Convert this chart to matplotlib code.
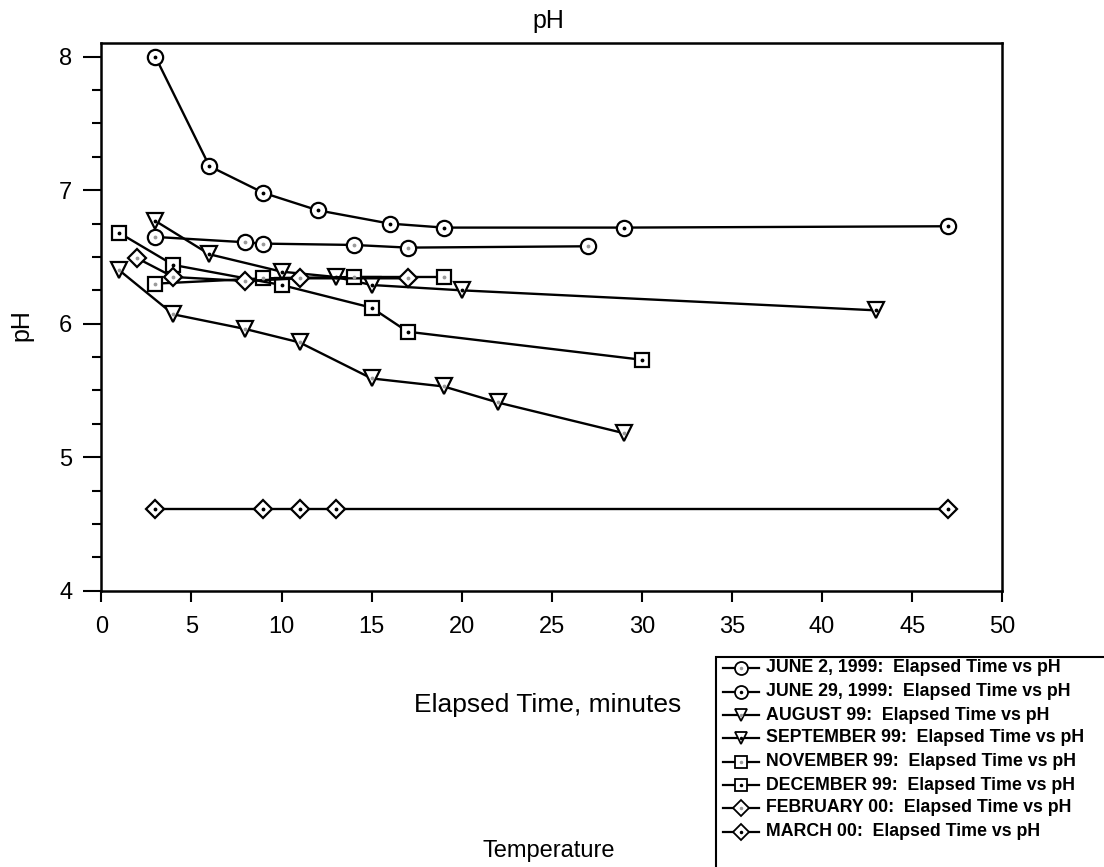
import matplotlib
matplotlib.use("Agg")
import matplotlib.pyplot as plt
from matplotlib.lines import Line2D
from matplotlib.patches import Rectangle
from matplotlib.ticker import MultipleLocator

plt.rcParams['font.family'] = ['Liberation Sans', 'DejaVu Sans']

# Elapsed time (minutes) and pH readings for each sampling date
june2_t = [3, 8, 9, 14, 17, 27]
june2_ph = [6.65, 6.61, 6.60, 6.59, 6.57, 6.58]
june29_t = [3, 6, 9, 12, 16, 19, 29, 47]
june29_ph = [8.00, 7.18, 6.98, 6.85, 6.75, 6.72, 6.72, 6.73]
aug_t = [1, 4, 8, 11, 15, 19, 22, 29]
aug_ph = [6.40, 6.07, 5.96, 5.86, 5.59, 5.53, 5.41, 5.18]
sep_t = [3, 6, 10, 13, 15, 20, 43]
sep_ph = [6.77, 6.52, 6.39, 6.35, 6.29, 6.25, 6.10]
nov_t = [3, 9, 14, 19]
nov_ph = [6.30, 6.34, 6.35, 6.35]
dec_t = [1, 4, 10, 15, 17, 30]
dec_ph = [6.68, 6.44, 6.29, 6.12, 5.94, 5.73]
feb_t = [2, 4, 8, 11, 17]
feb_ph = [6.49, 6.35, 6.32, 6.34, 6.34]
mar_t = [3, 9, 11, 13, 47]
mar_ph = [4.61, 4.61, 4.61, 4.61, 4.61]

labels = [
    "JUNE 2, 1999:  Elapsed Time vs pH",
    "JUNE 29, 1999:  Elapsed Time vs pH",
    "AUGUST 99:  Elapsed Time vs pH",
    "SEPTEMBER 99:  Elapsed Time vs pH",
    "NOVEMBER 99:  Elapsed Time vs pH",
    "DECEMBER 99:  Elapsed Time vs pH",
    "FEBRUARY 00:  Elapsed Time vs pH",
    "MARCH 00:  Elapsed Time vs pH",
]

# marker shape, marker size, centre mark colour
styles = [
    ("o", 11, "#9a9a9a"),
    ("o", 11, "black"),
    ("v", 11, "#9a9a9a"),
    ("v", 11, "black"),
    ("s", 10, "#9a9a9a"),
    ("s", 10, "black"),
    ("D", 9, "#9a9a9a"),
    ("D", 9, "black"),
]

series = [
    (june2_t, june2_ph), (june29_t, june29_ph),
    (aug_t, aug_ph), (sep_t, sep_ph),
    (nov_t, nov_ph), (dec_t, dec_ph),
    (feb_t, feb_ph), (mar_t, mar_ph),
]

W, H = 1104, 867
fig = plt.figure(figsize=(W / 100, H / 100), dpi=100)


def fx(px):
    return px / W


def fy(py):
    return 1 - py / H


ax = fig.add_axes([fx(101.3), fy(590.7), fx(1002.3) - fx(101.3), fy(42.7) - fy(590.7)])

for (t, ph), (m, ms, dot) in zip(series, styles):
    ax.plot(t, ph, color="black", lw=1.7, marker=m, markersize=ms,
            markerfacecolor="white", markeredgecolor="black", markeredgewidth=1.6,
            zorder=3)
    ax.plot(t, ph, linestyle="none", marker=".", markersize=3.5, color=dot, zorder=4)

ax.set_xlim(0, 50)
ax.set_ylim(4, 8.105)
ax.xaxis.set_major_locator(MultipleLocator(5))
ax.yaxis.set_major_locator(MultipleLocator(1))
ax.yaxis.set_minor_locator(MultipleLocator(0.25))
ax.tick_params(axis="y", which="major", direction="out", length=13, width=1.5,
               labelsize=17, pad=8)
ax.tick_params(axis="y", which="minor", direction="out", length=6.5, width=1.5)
ax.tick_params(axis="x", which="major", direction="out", length=8, width=1.5,
               labelsize=17, pad=10)
for s in ax.spines.values():
    s.set_linewidth(1.8)

fig.text(fx(548), fy(21), "pH", ha="center", va="center", fontsize=18)
fig.text(fx(21), fy(325), "pH", ha="center", va="center", fontsize=18, rotation=90)
fig.text(fx(548), fy(705), "Elapsed Time, minutes", ha="center", va="center", fontsize=19)
fig.text(fx(549), fy(851), "Temperature", ha="center", va="center", fontsize=17)

# Legend panel
fig.add_artist(Rectangle((fx(716), fy(880)), fx(1120) - fx(716), fy(657) - fy(880),
                         transform=fig.transFigure, facecolor="white",
                         edgecolor="black", linewidth=1.5, clip_on=False))
row_y = [668, 692, 715, 738, 762, 785, 808, 832]
for ry, lab, (m, ms, dot) in zip(row_y, labels, styles):
    fig.add_artist(Line2D([fx(723), fx(759)], [fy(ry), fy(ry)], transform=fig.transFigure,
                          color="black", lw=1.6))
    fig.add_artist(Line2D([fx(741)], [fy(ry)], transform=fig.transFigure,
                          linestyle="none", marker=m, markersize=ms * 0.85,
                          markerfacecolor="white", markeredgecolor="black",
                          markeredgewidth=1.3))
    fig.add_artist(Line2D([fx(741)], [fy(ry)], transform=fig.transFigure,
                          linestyle="none", marker=".", markersize=3, color=dot))
    fig.text(fx(766), fy(ry), lab, ha="left", va="center", fontsize=12.8,
             fontweight="bold")

fig.savefig("out.png", dpi=100)
